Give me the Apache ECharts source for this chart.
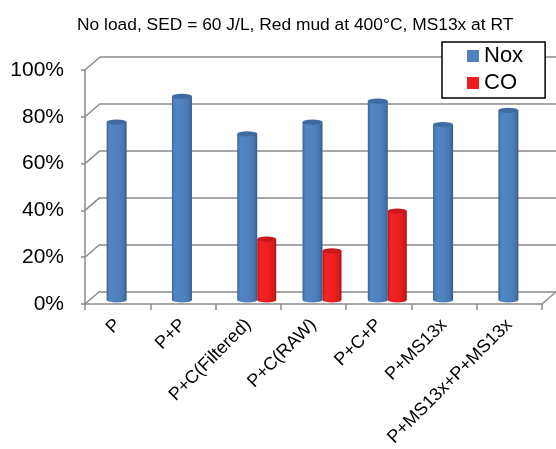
<!DOCTYPE html>
<html>
<head>
<meta charset="utf-8">
<script src="https://cdn.jsdelivr.net/npm/echarts@6/dist/echarts.min.js"></script>
<style>
  html, body { margin: 0; padding: 0; background: #fff; }
  #chart { width: 556px; height: 449px; }
</style>
</head>
<body>
<div id="chart"></div>
<script>
// data
const categories = ['P', 'P+P', 'P+C(Filtered)', 'P+C(RAW)', 'P+C+P', 'P+MS13x', 'P+MS13x+P+MS13x'];
const noxValues = [0.76, 0.87, 0.71, 0.76, 0.85, 0.75, 0.81];
const coValues = [null, null, 0.26, 0.21, 0.38, null, null];
const yTicks = [0, 0.2, 0.4, 0.6, 0.8, 1];

const GRID_COLOR = '#8a8a8a';
const DEPTH_X = 15, DEPTH_Y = 13;   // front -> back wall shift

function toPoints(values) {
  const out = [];
  values.forEach((v, i) => { if (v != null) out.push([i, v]); });
  return out;
}

// cylinder drawn half way into the depth
function cylinder(offset, width, colors) {
  return function (params, api) {
    const cat = api.value(0), v = api.value(1);
    const top = api.coord([cat, v]);
    const base = api.coord([cat, 0]);
    const cx = top[0] + offset;
    const rx = width / 2, ry = 2.6;
    const l = cx - rx, r = cx + rx;
    const yt = top[1] - 4, yb = base[1] - 4;
    return {
      type: 'group',
      children: [
        {
          type: 'path',
          shape: {
            pathData: 'M' + l + ' ' + yt + 'L' + l + ' ' + yb +
              'A' + rx + ' ' + ry + ' 0 0 0 ' + r + ' ' + yb +
              'L' + r + ' ' + yt + 'Z'
          },
          style: {
            fill: {
              type: 'linear', x: 0, y: 0, x2: 1, y2: 0,
              colorStops: [
                { offset: 0, color: colors[0] },
                { offset: 0.15, color: colors[1] },
                { offset: 0.6, color: colors[2] },
                { offset: 0.85, color: colors[3] },
                { offset: 1, color: colors[4] }
              ]
            }
          }
        },
        {
          type: 'path',
          shape: {
            pathData: 'M' + l + ' ' + yt +
              'A' + rx + ' ' + ry + ' 0 1 0 ' + r + ' ' + yt +
              'A' + rx + ' ' + ry + ' 0 1 0 ' + l + ' ' + yt + 'Z'
          },
          style: { fill: colors[5] }
        }
      ]
    };
  };
}

const myChart = echarts.init(document.getElementById('chart'));
myChart.setOption({
  animation: false,
  title: {
    text: 'No load, SED = 60 J/L, Red mud at 400°C, MS13x at RT',
    left: 72,
    top: 12,
    textStyle: { fontFamily: 'Liberation Sans, Arial', fontSize: 17.4, fontWeight: 'normal', color: '#000' }
  },
  legend: {
    orient: 'vertical',
    left: 442,
    top: 42,
    padding: [2, 22, 3, 25],
    itemGap: 3,
    itemWidth: 12,
    itemHeight: 12,
    borderColor: '#000',
    borderWidth: 1.5,
    backgroundColor: '#fff',
    data: [{ name: 'Nox', icon: 'rect' }, { name: 'CO', icon: 'rect' }],
    textStyle: { fontFamily: 'Liberation Sans, Arial', fontSize: 22, lineHeight: 24, color: '#000' }
  },
  grid: [
    // front plane: axes and labels
    { left: 85, top: 70, width: 457, height: 235 },
    // back wall: gridlines
    { left: 85 + DEPTH_X, top: 70 - DEPTH_Y, width: 457, height: 235 }
  ],
  xAxis: [
    {
      gridIndex: 0,
      type: 'category',
      data: categories,
      axisLine: { lineStyle: { color: GRID_COLOR, width: 1.5 } },
      axisTick: { show: true, length: 6, lineStyle: { color: GRID_COLOR, width: 1.5 } },
      axisLabel: {
        interval: 0,
        rotate: 45,
        margin: 18,
        fontFamily: 'Liberation Sans, Arial',
        fontSize: 18,
        color: '#000'
      }
    },
    { gridIndex: 1, type: 'category', data: categories, show: false }
  ],
  yAxis: [
    {
      gridIndex: 0,
      type: 'value',
      min: 0,
      max: 1,
      interval: 0.2,
      axisLine: { show: true, lineStyle: { color: GRID_COLOR, width: 1.5 } },
      axisTick: { show: true, length: 4, lineStyle: { color: GRID_COLOR, width: 1.5 } },
      splitLine: { show: false },
      axisLabel: {
        margin: 21,
        fontFamily: 'Liberation Sans, Arial',
        fontSize: 21,
        color: '#000',
        formatter: v => Math.round(v * 100) + '%'
      }
    },
    {
      gridIndex: 1,
      type: 'value',
      min: 0,
      max: 1,
      interval: 0.2,
      axisLine: { show: false },
      axisTick: { show: false },
      axisLabel: { show: false },
      splitLine: { show: true, lineStyle: { color: GRID_COLOR, width: 1.5 } }
    }
  ],
  series: [
    {
      // side wall and floor edges
      type: 'custom',
      xAxisIndex: 0,
      yAxisIndex: 0,
      silent: true,
      clip: false,
      z: 1,
      data: yTicks.map(t => [0, t]),
      renderItem: (params, api) => {
        const p = api.coord([0, api.value(1)]);
        const cs = params.coordSys;
        const lines = [{
          type: 'line',
          shape: { x1: cs.x, y1: p[1], x2: cs.x + DEPTH_X, y2: p[1] - DEPTH_Y },
          style: { stroke: GRID_COLOR, lineWidth: 1.5 }
        }];
        if (api.value(1) === 0) {
          lines.push({
            type: 'line',
            shape: { x1: cs.x + cs.width, y1: p[1], x2: cs.x + cs.width + DEPTH_X, y2: p[1] - DEPTH_Y },
            style: { stroke: GRID_COLOR, lineWidth: 1.5 }
          });
        }
        return { type: 'group', children: lines };
      }
    },
    {
      name: 'Nox',
      type: 'custom',
      xAxisIndex: 0,
      yAxisIndex: 0,
      clip: false,
      z: 3,
      itemStyle: { color: '#4f81bd' },
      data: toPoints(noxValues),
      renderItem: cylinder(-1, 20, ['#3d6597', '#5186c4', '#4f81bd', '#4676b0', '#36598a', '#3f6ba3'])
    },
    {
      name: 'CO',
      type: 'custom',
      xAxisIndex: 0,
      yAxisIndex: 0,
      clip: false,
      z: 3,
      itemStyle: { color: '#ee1c1c' },
      data: toPoints(coValues),
      renderItem: cylinder(18.5, 19, ['#bb1616', '#f22424', '#ee1f1f', '#d81b1b', '#a81313', '#c81a1a'])
    }
  ]
});

window.addEventListener('resize', () => { myChart.resize(); });
</script>
</body>
</html>
